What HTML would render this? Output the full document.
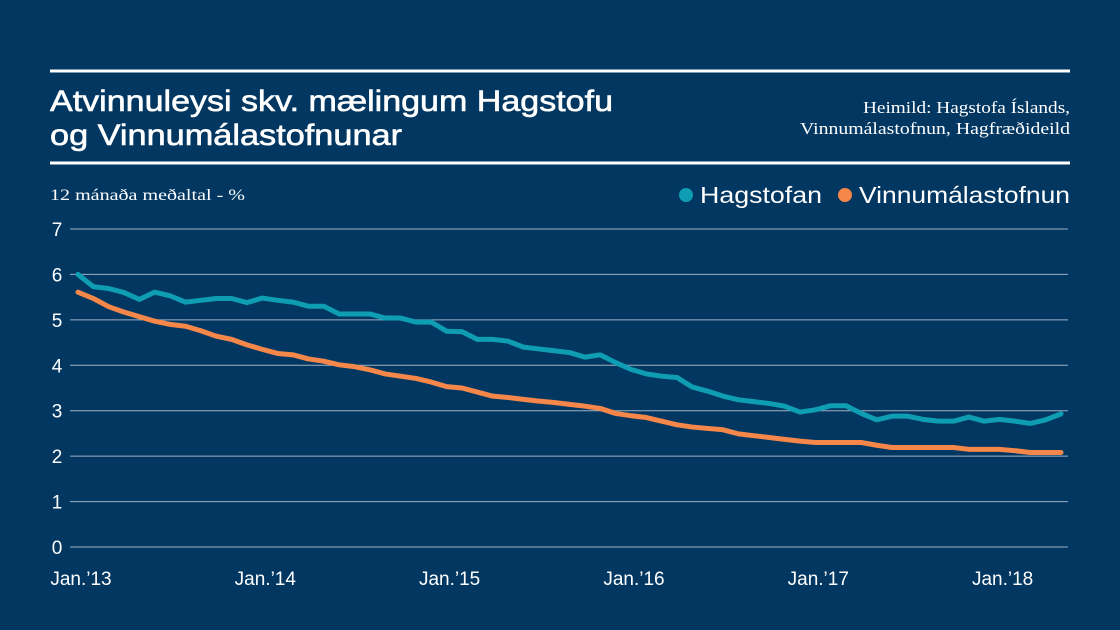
<!DOCTYPE html>
<html><head><meta charset="utf-8"><style>
html,body{margin:0;padding:0;background:#003660;}
svg{display:block;font-family:"Liberation Sans",sans-serif;}
</style></head><body>
<svg id="c" width="1120" height="630" viewBox="0 0 1120 630">
<rect width="1120" height="630" fill="#023761"/>
<rect x="50" y="69.5" width="1020" height="3" fill="#fff"/>
<rect x="50" y="161.5" width="1020" height="3" fill="#fff"/>
<text x="50" y="111" font-size="30" fill="#fff" stroke="#fff" stroke-width="0.6" textLength="563" lengthAdjust="spacingAndGlyphs">Atvinnuleysi skv. mælingum Hagstofu</text>
<text x="50" y="145" font-size="30" fill="#fff" stroke="#fff" stroke-width="0.6" textLength="352" lengthAdjust="spacingAndGlyphs">og Vinnumálastofnunar</text>
<text x="1070" y="113" font-size="17" fill="#fff" text-anchor="end" font-family="Liberation Serif, serif" textLength="207" lengthAdjust="spacingAndGlyphs">Heimild: Hagstofa Íslands,</text>
<text x="1070" y="134" font-size="17" fill="#fff" text-anchor="end" font-family="Liberation Serif, serif" textLength="270" lengthAdjust="spacingAndGlyphs">Vinnumálastofnun, Hagfræðideild</text>
<text x="50" y="200" font-size="16" fill="#fff" font-family="Liberation Serif, serif" textLength="195" lengthAdjust="spacingAndGlyphs">12 mánaða meðaltal - %</text>
<g>
<circle cx="686" cy="195" r="7" fill="#0f9db3"/>
<text x="700" y="203" font-size="23" fill="#fff" textLength="122" lengthAdjust="spacingAndGlyphs">Hagstofan</text>
<circle cx="845" cy="195" r="7" fill="#f5874a"/>
<text x="859" y="203" font-size="23" fill="#fff" textLength="211" lengthAdjust="spacingAndGlyphs">Vinnumálastofnun</text>
</g>
<g id="grid"></g><g id="xl"></g><g id="series"></g>
</svg>
<script>
const yTicks=[0,1,2,3,4,5,6,7];
const xTickLabels=["Jan.’13","Jan.’14","Jan.’15","Jan.’16","Jan.’17","Jan.’18"];
const xTickIndex=[0,12,24,36,48,60];
const hagstofan=[6.0,5.73,5.69,5.60,5.45,5.61,5.53,5.39,5.43,5.47,5.47,5.38,5.48,5.43,5.39,5.30,5.30,5.13,5.13,5.13,5.04,5.04,4.95,4.95,4.75,4.74,4.57,4.57,4.53,4.40,4.36,4.32,4.28,4.18,4.23,4.06,3.91,3.81,3.76,3.73,3.52,3.43,3.32,3.24,3.20,3.16,3.10,2.97,3.02,3.11,3.11,2.94,2.80,2.88,2.88,2.81,2.77,2.77,2.86,2.77,2.81,2.77,2.72,2.80,2.93];
const vinnumalastofnun=[5.61,5.47,5.29,5.17,5.07,4.97,4.90,4.86,4.76,4.64,4.57,4.45,4.35,4.26,4.23,4.14,4.09,4.01,3.97,3.90,3.81,3.76,3.71,3.63,3.53,3.50,3.41,3.32,3.29,3.25,3.21,3.18,3.14,3.10,3.05,2.94,2.89,2.85,2.77,2.69,2.64,2.61,2.58,2.49,2.45,2.41,2.37,2.33,2.30,2.30,2.30,2.30,2.24,2.19,2.19,2.19,2.19,2.19,2.15,2.15,2.15,2.12,2.08,2.08,2.08];
const NS="http://www.w3.org/2000/svg";
const x0=78,dx=15.36,y0=547,yk=45.43;
const X=i=>x0+i*dx, Y=v=>y0-v*yk;
function mk(t,a,p){const e=document.createElementNS(NS,t);for(const k in a)e.setAttribute(k,a[k]);p.appendChild(e);return e;}
const grid=document.getElementById('grid');
yTicks.forEach(v=>{
  const l=mk('line',{x1:70,x2:1068,y1:Y(v),y2:Y(v),stroke:'#9fb0c4','stroke-width':1},grid);
  
  
  const t=mk('text',{x:57,y:Y(v)+7,'font-size':19,fill:'#fff','text-anchor':'middle'},grid);
  t.textContent=v;
  
  
});
const xl=document.getElementById('xl');
xTickLabels.forEach((s,k)=>{
  const t=mk('text',{x:X(xTickIndex[k])+3,y:585,'font-size':19,fill:'#fff','text-anchor':'middle'},xl);
  t.textContent=s;
  
  
});
const ser=document.getElementById('series');
[[hagstofan,'#0f9db3','line-hagstofan'],[vinnumalastofnun,'#f5874a','line-vinnumalastofnun']].forEach(([d,c,n])=>{
  const p=mk('polyline',{points:d.map((v,i)=>X(i)+','+Y(v)).join(' '),fill:'none',stroke:c,'stroke-width':5,'stroke-linejoin':'round','stroke-linecap':'round'},ser);
  
  
});
</script>
</body></html>
